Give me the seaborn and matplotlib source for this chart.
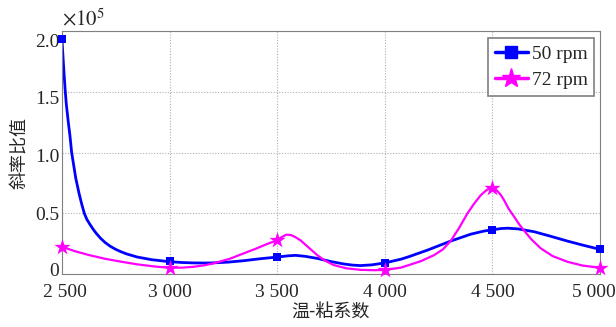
import matplotlib
matplotlib.use("Agg")
import matplotlib.pyplot as plt
import matplotlib.transforms as mtransforms
import seaborn as sns
from matplotlib.lines import Line2D

# data points (markers), values in units of 1e5
x_pts = [2500, 3000, 3500, 4000, 4500, 5000]
rpm50 = [1.93, 0.112, 0.140, 0.095, 0.364, 0.205]
rpm72 = [0.227, 0.052, 0.280, 0.038, 0.712, 0.054]

# smooth curves
x_c50 = [2500, 2505, 2510, 2515, 2520, 2530, 2537, 2545, 2555, 2564, 2580, 2592, 2604, 2616, 2630,
         2645, 2660, 2680, 2700, 2725, 2750, 2775, 2800, 2850, 2918, 3000, 3060, 3111, 3160, 3200,
         3270, 3344, 3420, 3500, 3550, 3585, 3630, 3686, 3750, 3810, 3850, 3887, 3940, 4000, 4074,
         4112, 4200, 4306, 4400, 4460, 4500, 4540, 4570, 4620, 4694, 4770, 4849, 4920, 5000]
y_c50 = [1.93, 1.78, 1.64, 1.51, 1.40, 1.24, 1.14, 1.0, 0.89, 0.79, 0.66, 0.575, 0.5, 0.45, 0.41,
         0.37, 0.335, 0.295, 0.262, 0.23, 0.205, 0.185, 0.168, 0.142, 0.12, 0.104, 0.097, 0.094, 0.093, 0.094,
         0.1, 0.112, 0.128, 0.142, 0.152, 0.156, 0.148, 0.131, 0.105, 0.085, 0.076, 0.072, 0.078, 0.094, 0.124,
         0.145, 0.2, 0.273, 0.33, 0.355, 0.366, 0.376, 0.379, 0.373, 0.35, 0.313, 0.273, 0.24, 0.205]
x_c72 = [2500, 2560, 2622, 2700, 2778, 2850, 2933, 3000, 3060, 3111, 3160, 3204, 3280, 3344,
         3400, 3453, 3500, 3520, 3543, 3565, 3585, 3608, 3640, 3686, 3720, 3763, 3820, 3887,
         3950, 4000, 4074, 4112, 4170, 4229, 4270, 4306, 4345, 4384, 4415, 4446, 4475, 4500,
         4520, 4540, 4554, 4575, 4601, 4625, 4645, 4680, 4725, 4780, 4849, 4920, 5000]
y_c72 = [0.227, 0.19, 0.16, 0.128, 0.103, 0.082, 0.064, 0.054, 0.055, 0.062, 0.074, 0.09, 0.128, 0.172,
         0.21, 0.249, 0.28, 0.305, 0.326, 0.322, 0.305, 0.28, 0.23, 0.158, 0.115, 0.076, 0.05, 0.037,
         0.034, 0.036, 0.055, 0.076, 0.11, 0.158, 0.205, 0.273, 0.38, 0.5, 0.58, 0.65, 0.695, 0.712,
         0.69, 0.65, 0.61, 0.54, 0.473, 0.41, 0.364, 0.29, 0.213, 0.15, 0.103, 0.072, 0.054]

x_ticks = [2500, 3000, 3500, 4000, 4500, 5000]
x_ticklabels = ["2 500", "3 000", "3 500", "4 000", "4 500", "5 000"]
y_ticks = [0, 0.5, 1.0, 1.5, 2.0]
y_ticklabels = ["0", "0.5", "1.0", "1.5", "2.0"]

sns.set_style("white")
plt.rcParams["font.family"] = ["Liberation Serif", "Noto Sans CJK SC"]
plt.rcParams["mathtext.fontset"] = "stix"

fig = plt.figure(figsize=(6.16, 3.27), dpi=100)
ax = fig.add_axes([0.1006, 0.161, 0.8734, 0.745])

blue = "#0000FF"
mag = "#FF00FF"

sns.lineplot(x=x_c50, y=y_c50, ax=ax, color=blue, lw=2.0, sort=False, estimator=None)
sns.lineplot(x=x_c72, y=y_c72, ax=ax, color=mag, lw=1.6, sort=False, estimator=None)
sns.scatterplot(x=x_pts, y=rpm50, ax=ax, color=blue, marker="s", s=40, edgecolor=blue,
                linewidth=0, zorder=5, clip_on=False)
sns.scatterplot(x=x_pts, y=rpm72, ax=ax, color=mag, marker="*", s=150, edgecolor=mag,
                linewidth=0, zorder=5, clip_on=False)

ax.set_xlim(2500, 5000)
ax.set_ylim(0, 2.0)
ax.set_xticks(x_ticks)
ax.set_xticklabels(x_ticklabels, fontsize=14)
ax.set_yticks(y_ticks)
ax.set_yticklabels(y_ticklabels, fontsize=14)
ax.grid(True, color="#b0b0b0", linestyle=(0, (1, 1.5)), linewidth=0.8)
ax.tick_params(direction="in", length=3, color="#808080")
ax.tick_params(axis="x", pad=7)
ax.tick_params(axis="y", pad=2)
for s in ax.spines.values():
    s.set_color("#808080")
    s.set_linewidth(0.8)

# shift y tick labels slightly downward as in the reference
offs = [-5, 0, 3, 6, 10]
for lab, o in zip(ax.get_yticklabels(), offs):
    lab.set_transform(lab.get_transform() + mtransforms.ScaledTranslation(0, -o / 100, fig.dpi_scale_trans))
# keep the last x tick label inside the figure
xl = ax.get_xticklabels()
xl[0].set_transform(xl[0].get_transform() + mtransforms.ScaledTranslation(0.03, 0, fig.dpi_scale_trans))
xl[-1].set_transform(xl[-1].get_transform() + mtransforms.ScaledTranslation(-0.06, 0, fig.dpi_scale_trans))

ax.set_xlabel("温-粘系数", fontsize=13, family=["Noto Sans CJK SC"], labelpad=1)
ax.set_ylabel("斜率比值", fontsize=13, family=["Noto Sans CJK SC"], labelpad=4)
fig.text(0.100, 0.94, r"$\times 10^5$", fontsize=15, ha="left", va="center")

handles = [Line2D([], [], color=blue, lw=2.5, marker="s", markersize=8),
           Line2D([], [], color=mag, lw=2.5, marker="*", markersize=14)]
leg = ax.legend(handles, ["50 rpm", "72 rpm"], loc="upper right", fontsize=14,
                frameon=True, fancybox=False, edgecolor="#606060", handlelength=1.7,
                handletextpad=0.2, borderpad=0.35, labelspacing=0.45, borderaxespad=0.2,
                bbox_to_anchor=(0.997, 0.985))
leg.get_frame().set_linewidth(1.2)

fig.savefig("out.png", dpi=100)
